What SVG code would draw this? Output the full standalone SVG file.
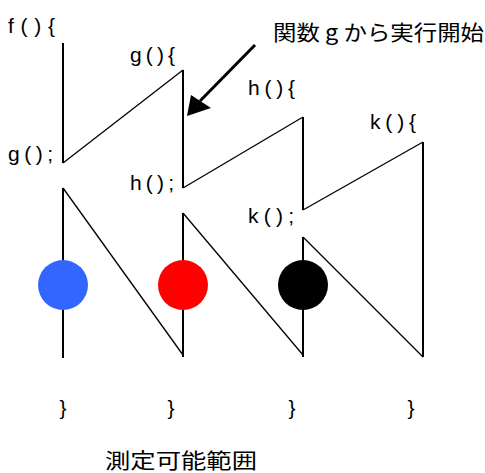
<svg xmlns="http://www.w3.org/2000/svg" width="485" height="473" viewBox="0 0 485 473">
<style>
.t{font-family:"Liberation Sans","DejaVu Sans",sans-serif;font-size:21px;fill:#000}
.j{font-family:"Noto Sans CJK JP","Noto Sans CJK SC",sans-serif;font-size:21px;fill:#000}
.v{stroke:#000;stroke-width:2;fill:none}
.d{stroke:#000;stroke-width:1.3;fill:none}
</style>
<rect width="485" height="473" fill="#fff"/>
<g id="connectors">
<line class="v" x1="63" y1="43" x2="63" y2="163"/>
<line class="d" x1="63" y1="163" x2="183" y2="70"/>
<line class="v" x1="183" y1="70" x2="183" y2="188"/>
<line class="d" x1="183" y1="188" x2="303" y2="117"/>
<line class="v" x1="303" y1="117" x2="303" y2="210"/>
<line class="d" x1="303" y1="210" x2="423" y2="142"/>
<line class="v" x1="423" y1="142" x2="423" y2="357"/>
<line class="v" x1="63" y1="188" x2="63" y2="358"/>
<line class="d" x1="63" y1="188" x2="183" y2="355"/>
<line class="v" x1="183" y1="213" x2="183" y2="357"/>
<line class="d" x1="183" y1="213" x2="303" y2="355"/>
<line class="v" x1="303" y1="237" x2="303" y2="357"/>
<line class="d" x1="303" y1="237" x2="423" y2="357"/>
<line x1="255" y1="45" x2="200" y2="101" stroke="#000" stroke-width="3"/>
<polygon points="187,116 191,95 211,108" fill="#000"/>
</g>
<g id="f-start"><text class="t" x="8" y="33" textLength="47" lengthAdjust="spacing">f(){</text></g>
<g id="g-call"><text class="t" x="8" y="161" textLength="45" lengthAdjust="spacing">g();</text></g>
<g id="g-start"><text class="t" x="130" y="62" textLength="45" lengthAdjust="spacing">g(){</text></g>
<g id="h-call"><text class="t" x="130" y="190" textLength="44" lengthAdjust="spacing">h();</text></g>
<g id="h-start"><text class="t" x="248" y="95" textLength="47" lengthAdjust="spacing">h(){</text></g>
<g id="k-call"><text class="t" x="248" y="223" textLength="46" lengthAdjust="spacing">k();</text></g>
<g id="k-start"><text class="t" x="370" y="129" textLength="46" lengthAdjust="spacing">k(){</text></g>
<g id="title"><text class="j" x="273" y="40" textLength="211" lengthAdjust="spacingAndGlyphs">関数 g から実行開始</text></g>
<g id="circle-blue"><circle cx="63" cy="285" r="25" fill="#3366ff"/></g>
<g id="circle-red"><circle cx="183" cy="285" r="25" fill="#ff0000"/></g>
<g id="circle-black"><circle cx="303" cy="285" r="25" fill="#000"/></g>
<g id="braces">
<text class="t" x="63" y="415" text-anchor="middle">}</text>
<text class="t" x="171" y="415" text-anchor="middle">}</text>
<text class="t" x="292" y="415" text-anchor="middle">}</text>
<text class="t" x="411" y="415" text-anchor="middle">}</text>
</g>
<g id="range-label"><text class="j" x="105" y="468" textLength="152" lengthAdjust="spacingAndGlyphs">測定可能範囲</text></g>
</svg>
